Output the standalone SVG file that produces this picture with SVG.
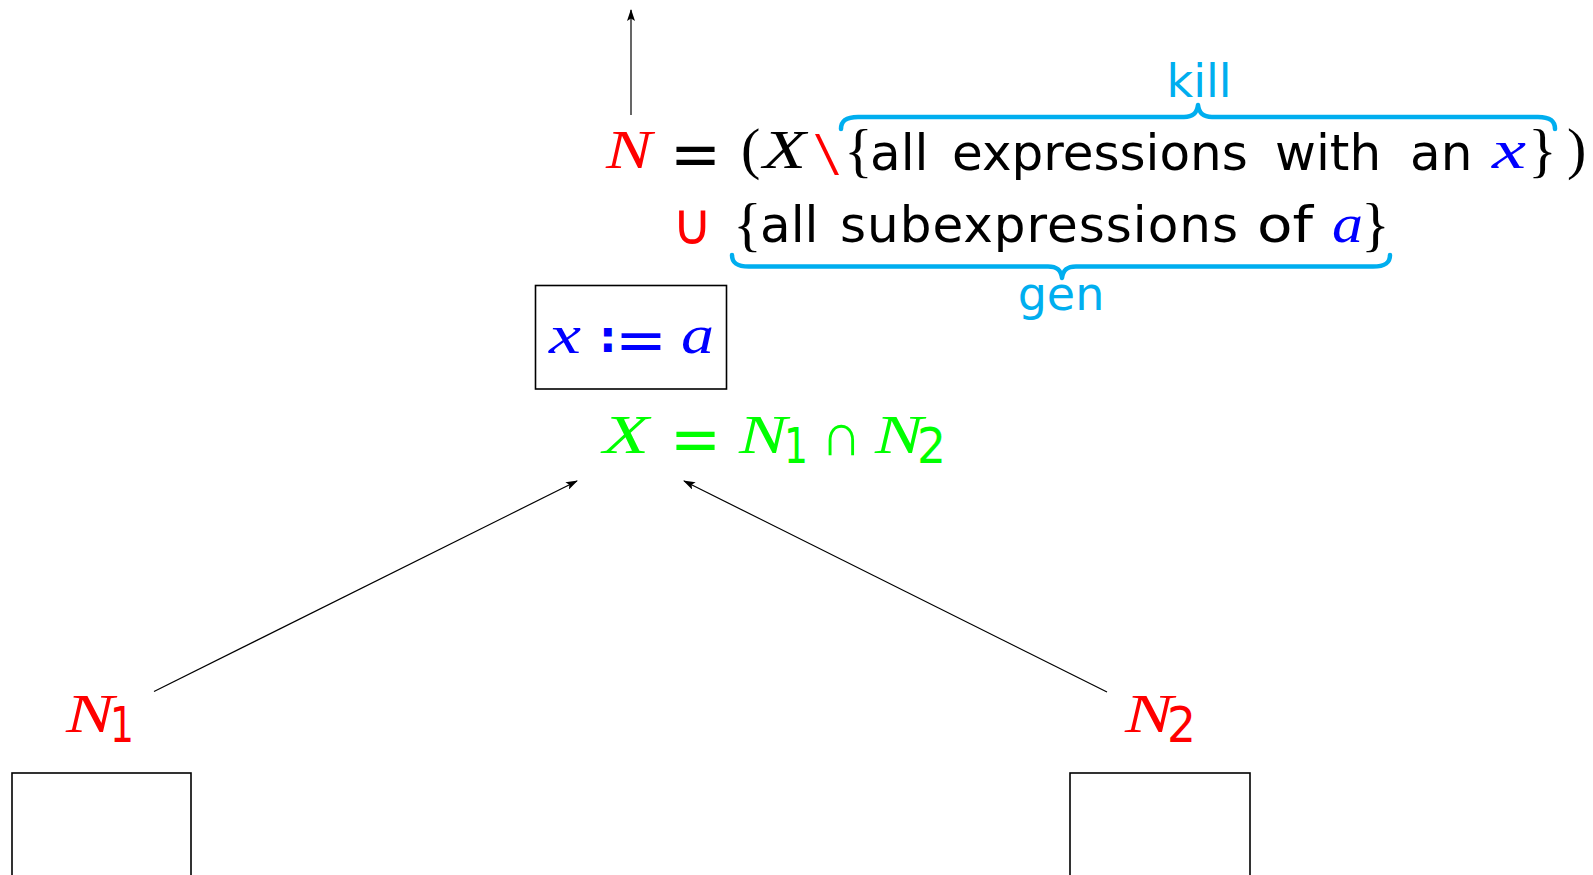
<svg xmlns="http://www.w3.org/2000/svg" width="1593" height="875" viewBox="0 0 1593 875">
<style>
.m{font-family:"Liberation Serif",serif;font-style:italic}
.s{font-family:"DejaVu Sans",sans-serif}
.sb{font-family:"DejaVu Sans",sans-serif;font-weight:bold}
.r{font-family:"Liberation Serif",serif}
.red{fill:#ff0000}.blk{fill:#000}.blu{fill:#0000ff}.grn{fill:#00ff00}.cy{fill:#00aeef}
.brace{fill:none;stroke:#00aeef;stroke-width:4.5;stroke-linecap:round;stroke-linejoin:round}
.box{fill:none;stroke:#000;stroke-width:1.6}
.edge{fill:none;stroke:#000;stroke-width:1.2}
</style>
<defs>
<marker id="ah" markerWidth="12" markerHeight="8" refX="11" refY="4" orient="auto" markerUnits="userSpaceOnUse">
<path d="M0,0 L12,4 L0,8 L2.5,4 Z" fill="#000"/>
</marker>
</defs>
<rect width="1593" height="875" fill="#fff"/>

<g id="connectors">
<line class="edge" x1="631" y1="115" x2="631" y2="10" marker-end="url(#ah)"/>
<line class="edge" x1="154" y1="691.5" x2="577" y2="481" marker-end="url(#ah)"/>
<line class="edge" x1="1107" y1="692" x2="684" y2="481" marker-end="url(#ah)"/>
</g>

<g id="equation-N">
<text class="m red" x="606" y="168" font-size="55" textLength="46" lengthAdjust="spacingAndGlyphs">N</text>
<text class="s blk" x="670" y="176" font-size="64" textLength="51" lengthAdjust="spacingAndGlyphs">=</text>
<text class="r blk" x="741" y="168" font-size="58">(</text>
<text class="m blk" x="763" y="168" font-size="55" textLength="43" lengthAdjust="spacingAndGlyphs">X</text>
<text class="r red" x="815" y="174" font-size="62" textLength="24" lengthAdjust="spacingAndGlyphs">\</text>
<text class="r blk" x="844" y="170" font-size="60">{</text>
<text class="s blk" font-size="50" y="170"><tspan x="870">all</tspan><tspan x="952">expressions</tspan><tspan x="1275">with</tspan><tspan x="1410">an</tspan></text>
<text class="m blu" x="1492" y="168" font-size="55" textLength="34" lengthAdjust="spacingAndGlyphs">x</text>
<text class="r blk" x="1528" y="170" font-size="60">}</text>
<text class="r blk" x="1567" y="168" font-size="58">)</text>
<path class="brace" d="M841,129 C841,121 846,117 858,117 L1184,117 C1193,117 1197,113 1198,105 C1199,113 1203,117 1212,117 L1538,117 C1550,117 1555,121 1555,129"/>
<text class="s cy" x="1199" y="97" font-size="46" text-anchor="middle">kill</text>
</g>

<g id="equation-gen">
<text class="r red" x="672" y="244" font-size="58" textLength="40" lengthAdjust="spacingAndGlyphs">∪</text>
<text class="r blk" x="733" y="244" font-size="60">{</text>
<text class="s blk" font-size="50" y="242"><tspan x="760">all</tspan><tspan x="840" textLength="398" lengthAdjust="spacing">subexpressions</tspan></text>
<text class="s blk" font-size="50" y="242" x="1257" textLength="56" lengthAdjust="spacingAndGlyphs">of</text>
<text class="m blu" x="1332" y="242" font-size="55" textLength="31" lengthAdjust="spacingAndGlyphs">a</text>
<text class="r blk" x="1361" y="244" font-size="60">}</text>
<path class="brace" d="M732,255 C732,263 737,266.5 749,266.5 L1048,266.5 C1057,266.5 1061,270 1062,278 C1063,270 1067,266.5 1076,266.5 L1373,266.5 C1385,266.5 1390,263 1390,255"/>
<text class="s cy" x="1061" y="310" font-size="46" text-anchor="middle">gen</text>
</g>

<g id="node-assign">
<rect class="box" x="535.5" y="285.5" width="191" height="103.5"/>
<text class="m blu" x="549" y="353" font-size="55" textLength="32" lengthAdjust="spacingAndGlyphs">x</text>
<text class="sb blu" x="599" y="352" font-size="44">:</text>
<text class="s blu" x="615" y="360" font-size="58" textLength="52" lengthAdjust="spacingAndGlyphs">=</text>
<text class="m blu" x="681" y="353" font-size="55" textLength="33" lengthAdjust="spacingAndGlyphs">a</text>
</g>

<g id="equation-X">
<text class="m grn" x="603" y="453" font-size="55" textLength="46" lengthAdjust="spacingAndGlyphs">X</text>
<text class="s grn" x="670" y="461" font-size="64" textLength="51" lengthAdjust="spacingAndGlyphs">=</text>
<text class="m grn" x="739" y="453" font-size="55" textLength="48" lengthAdjust="spacingAndGlyphs">N</text>
<text class="s grn" x="784" y="463" font-size="50" textLength="24" lengthAdjust="spacingAndGlyphs">1</text>
<text class="r grn" x="821" y="455" font-size="60" textLength="41" lengthAdjust="spacingAndGlyphs">∩</text>
<text class="m grn" x="875" y="453" font-size="55" textLength="48" lengthAdjust="spacingAndGlyphs">N</text>
<text class="s grn" x="917" y="463" font-size="50" textLength="29" lengthAdjust="spacingAndGlyphs">2</text>
</g>

<g id="node-N1">
<text class="m red" x="66" y="732" font-size="55" textLength="48" lengthAdjust="spacingAndGlyphs">N</text>
<text class="s red" x="110" y="742" font-size="50" textLength="24" lengthAdjust="spacingAndGlyphs">1</text>
<rect class="box" x="12" y="773" width="179" height="140"/>
</g>

<g id="node-N2">
<text class="m red" x="1125" y="732" font-size="55" textLength="48" lengthAdjust="spacingAndGlyphs">N</text>
<text class="s red" x="1167" y="742" font-size="50" textLength="29" lengthAdjust="spacingAndGlyphs">2</text>
<rect class="box" x="1070" y="773" width="180" height="140"/>
</g>
</svg>
